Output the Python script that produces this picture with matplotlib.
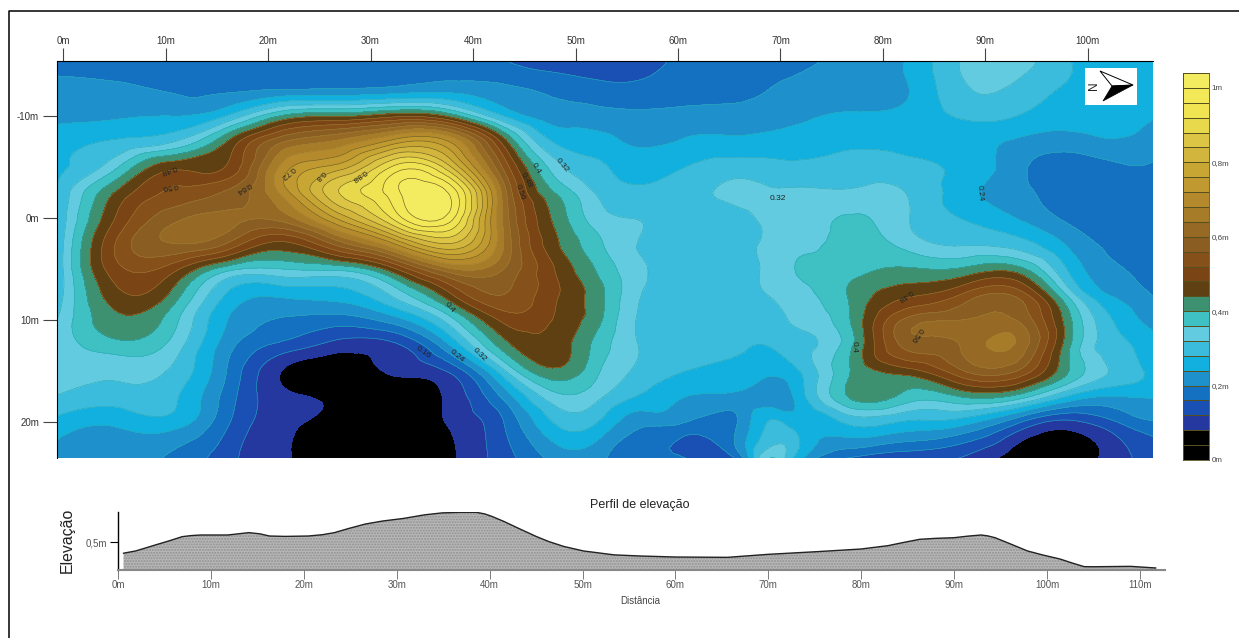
import matplotlib
matplotlib.use("Agg")
import matplotlib.pyplot as plt
import matplotlib.tri as mtri
from matplotlib.colors import ListedColormap, BoundaryNorm
from matplotlib.lines import Line2D
from matplotlib.patches import Polygon
import numpy as np

plt.rcParams['font.family'] = ['Liberation Sans', 'DejaVu Sans']

W, H = 1239, 638

# sample positions on the map (metres)
x_pos = [-1, 5.4, 10.9, 16.3, 21.6, 26.9, 32.3, 37.7, 43, 48.4, 52.4, 55.3, 60.7, 66, 68.7, 71.4, 76.8, 82.2, 87.5, 93, 98.3, 103.6, 107]
y_pos = [-15.5, -12.5, -10, -7.5, -5, -2.5, 0, 2.5, 5, 7.5, 10, 12.5, 15, 17.5, 20, 24]

# elevation, one line per x position
elev = [
    [.19, .21, .23, .26, .27, .27, .27, .27, .27, .28, .31, .33, .34, .32, .27, .24],
    [.17, .21, .235, .285, .36, .45, .49, .53, .51, .47, .43, .385, .33, .30, .25, .215],
    [.175, .195, .24, .32, .47, .53, .59, .60, .49, .42, .37, .34, .31, .285, .26, .19],
    [.185, .195, .29, .45, .49, .57, .61, .55, .37, .27, .235, .21, .19, .175, .16, .13],
    [.195, .205, .41, .60, .70, .70, .62, .47, .36, .25, .195, .145, .075, .09, .09, .085],
    [.195, .21, .435, .65, .78, .88, .77, .58, .37, .26, .18, .10, .05, .07, .06, .05],
    [.19, .22, .47, .74, .93, .985, .93, .72, .47, .33, .22, .11, .085, .05, .03, .02],
    [.19, .23, .43, .72, .85, .995, .98, .84, .63, .47, .34, .235, .125, .09, .085, .07],
    [.16, .21, .28, .46, .55, .62, .63, .64, .60, .56, .49, .42, .31, .21, .16, .14],
    [.13, .19, .22, .27, .33, .39, .42, .44, .47, .48, .47, .46, .43, .35, .29, .21],
    [.13, .175, .215, .255, .285, .31, .335, .365, .39, .41, .405, .38, .36, .325, .275, .21],
    [.135, .17, .21, .235, .27, .29, .32, .325, .34, .34, .33, .33, .32, .285, .22, .17],
    [.17, .18, .215, .245, .28, .30, .30, .305, .30, .30, .30, .30, .28, .24, .20, .18],
    [.18, .19, .215, .25, .30, .33, .31, .30, .30, .305, .30, .285, .26, .23, .205, .15],
    [.185, .20, .22, .255, .295, .325, .325, .33, .33, .32, .305, .28, .25, .22, .28, .38],
    [.19, .21, .23, .26, .29, .325, .33, .345, .36, .34, .325, .30, .27, .245, .26, .25],
    [.21, .215, .245, .27, .30, .325, .365, .375, .385, .405, .40, .39, .40, .405, .29, .13],
    [.24, .235, .25, .265, .295, .32, .325, .345, .405, .47, .57, .57, .46, .385, .275, .11],
    [.32, .31, .285, .255, .27, .26, .28, .315, .405, .52, .60, .60, .55, .40, .26, .11],
    [.34, .31, .28, .235, .215, .215, .24, .30, .42, .55, .60, .635, .56, .385, .17, .05],
    [.28, .27, .25, .225, .17, .175, .19, .23, .27, .34, .405, .40, .395, .27, .11, .06],
    [.245, .25, .245, .235, .195, .165, .17, .185, .20, .225, .26, .285, .30, .24, .17, .11],
    [.24, .24, .24, .215, .19, .165, .17, .17, .18, .19, .215, .245, .26, .245, .20, .15],
]

levels = [round(i * 0.04, 2) for i in range(27)]
band_colors = ['#000000', '#000000', '#2438a0', '#1a50b4', '#1470c0', '#1e90cc', '#12b0de', '#3cbcdc',
               '#62cbe0', '#3fc1c4', '#3d9070', '#5e4012', '#7a4414', '#85501a', '#8a5e22', '#966a24',
               '#a67c28', '#b58a2c', '#c09a30', '#c8a634', '#d2b53c', '#dcc444', '#e8d84c', '#f0e452',
               '#f2e858', '#f4ec60']

top_ticks = [0, 10, 20, 30, 40, 50, 60, 70, 80, 90, 100]
top_labels = ['0m', '10m', '20m', '30m', '40m', '50m', '60m', '70m', '80m', '90m', '100m']
left_ticks = [-10, 0, 10, 20]
left_labels = ['-10m', '0m', '10m', '20m']

# contour labels: text, x, y, rotation
label_text = ['0.48', '0.56', '0.64', '0.72', '0.8', '0.88', '0.4', '0.48', '0.56', '0.32', '0.4', '0.32', '0.24', '0.16', '0.32', '0.24', '0.4', '0.48', '0.56']
label_x = [10.3, 10.4, 17.6, 21.9, 25, 28.8, 46.1, 45.2, 44.6, 48.7, 37.7, 40.6, 38.4, 35.1, 69.7, 89.5, 77.2, 82.1, 83.2]
label_y = [-4.8, -3.2, -3.0, -4.5, -4.2, -4.2, -4.9, -3.7, -2.5, -5.2, 8.8, 13.4, 13.5, 13.2, -1.9, -2.5, 12.6, 7.5, 11.4]
label_rot = [200, 190, 210, 220, 225, 215, -60, -60, -70, -50, -50, -45, -40, -35, 0, -85, -90, 215, 235]

# elevation profile
prof_x = [0.6, 1.9, 2.9, 4, 5.5, 6.9, 7.9, 8.9, 11.8, 14.1, 15.3, 16.3, 18, 20.5, 22, 23.3, 24.8, 26.6, 28.5, 30.7, 33, 34.9,
          36.8, 38.6, 39.5, 40.2, 41.5, 43.1, 45, 46.4, 48, 50.1, 52, 53.4, 56.2, 60, 65.6, 70, 75.2, 80, 82.9, 84.5, 86.3,
          88, 90, 91.5, 92.9, 93.6, 94.4, 96, 97.9, 99.5, 101.4, 102.8, 104, 105, 109, 111.7]
prof_v = [.30, .34, .39, .446, .52, .595, .615, .625, .625, .667, .645, .607, .60, .607, .63, .667, .74, .82, .875, .92, .985, 1.02,
          1.03, 1.03, 1.0, .96, .87, .745, .60, .506, .42, .34, .30, .27, .25, .232, .226, .28, .327, .375, .435, .49, .548,
          .565, .577, .605, .625, .61, .577, .47, .34, .27, .196, .12, .06, .058, .065, .036]
prof_ticks = [0, 10, 20, 30, 40, 50, 60, 70, 80, 90, 100, 110]
prof_labels = ['0m', '10m', '20m', '30m', '40m', '50m', '60m', '70m', '80m', '90m', '100m', '110m']
cbar_ticks = [0, 0.2, 0.4, 0.6, 0.8, 1.0]
cbar_labels = ['0m', '0,2m', '0,4m', '0,6m', '0,8m', '1m']


def px_axes(left, top, right, bottom):
    return fig.add_axes([left / W, 1 - bottom / H, (right - left) / W, (bottom - top) / H])


fig = plt.figure(figsize=(W / 100, H / 100), dpi=100, facecolor='white')

# frame lines on the left and on top
fig.add_artist(Line2D([8.5 / W, 8.5 / W, 1], [0, 1 - 10.7 / H, 1 - 10.7 / H], color='black', lw=1.1))

cmap = ListedColormap(band_colors)
norm = BoundaryNorm(levels, cmap.N)

# map
ax = px_axes(57, 61, 1153, 458)
X, Y = np.meshgrid(x_pos, y_pos, indexing='ij')
Z = np.array(elev)
tri = mtri.Triangulation(X.ravel(), Y.ravel())
refiner = mtri.UniformTriRefiner(tri)
tri2, z2 = refiner.refine_field(Z.ravel(), subdiv=3)
ax.tricontourf(tri2, z2, levels=levels, cmap=cmap, norm=norm, extend='both')
ax.tricontour(tri2, z2, levels=[l for l in levels if 0.08 < l < 0.44], colors='#2aa8b4', linewidths=0.4)
ax.tricontour(tri2, z2, levels=[l for l in levels if 0.44 <= l < 0.7], colors='#a08038', linewidths=0.35)
ax.tricontour(tri2, z2, levels=[l for l in levels if l >= 0.7], colors='#6b5a20', linewidths=0.45)
ax.set_xlim(-0.6, 106.35)
ax.set_ylim(23.5, -15.4)
ax.xaxis.tick_top()
ax.set_xticks(top_ticks, top_labels, fontsize=7, color='#333333')
ax.set_yticks(left_ticks, left_labels, fontsize=7, color='#333333')
ax.tick_params(axis='x', length=9.5, width=0.8, pad=1, color='#444444')
ax.tick_params(axis='y', length=10, width=0.8, pad=3, color='#444444')
ax.spines['right'].set_visible(False)
ax.spines['bottom'].set_visible(False)
for t, lx, ly, r in zip(label_text, label_x, label_y, label_rot):
    ax.text(lx, ly, t, fontsize=6, rotation=r, ha='center', va='center', color='#222222', rotation_mode='anchor')

# north arrow
na = px_axes(1085, 68, 1137, 105)
na.set_xlim(0, 52)
na.set_ylim(37, 0)
na.set_xticks([])
na.set_yticks([])
for s in na.spines.values():
    s.set_visible(False)
na.add_patch(Polygon([[15, 3], [48, 17], [27, 18]], fc='white', ec='black', lw=0.7))
na.add_patch(Polygon([[18, 33], [48, 17], [27, 18]], fc='black', ec='black', lw=0.5))
na.text(9, 18, 'N', rotation=90, fontsize=8.5, ha='center', va='center', color='#222222')

# colour scale
cb = px_axes(1183, 73, 1209, 460)
cb.pcolormesh([0, 1], levels, np.array(levels[:-1]).reshape(-1, 1) + 0.02, cmap=cmap, norm=norm,
              edgecolors='#55501e', linewidth=0.5)
cb.set_xticks([])
cb.yaxis.tick_right()
cb.set_yticks(cbar_ticks, cbar_labels, fontsize=5.8, color='#444444')
cb.tick_params(axis='y', length=0, pad=2)
cb.set_ylim(0, 1.04)
for s in cb.spines.values():
    s.set_linewidth(0.6)
    s.set_color('#55501e')

# elevation profile
pa = px_axes(118, 512, 1165, 570)
pa.fill_between(prof_x, prof_v, 0, facecolor='#b8b8b8', edgecolor='#909090', hatch='......', lw=0)
pa.plot(prof_x, prof_v, color='#222222', lw=1.0)
pa.set_xlim(0, 112.7)
pa.set_ylim(0, 58 / 56)
pa.set_xticks(prof_ticks, prof_labels, fontsize=7, color='#555555')
pa.set_yticks([0.5], ['0,5m'], fontsize=7, color='#555555')
pa.tick_params(axis='x', length=6.5, width=0.6, color='#666666', pad=1)
pa.tick_params(axis='y', length=6, width=0.8, pad=2)
pa.spines['top'].set_visible(False)
pa.spines['right'].set_visible(False)
pa.spines['bottom'].set_color('#888888')
pa.spines['bottom'].set_linewidth(1.5)
pa.spines['left'].set_linewidth(1.0)

fig.text(640 / W, 1 - 505 / H, 'Perfil de elevação', fontsize=9, ha='center', va='center', color='#222222')
fig.text(640 / W, 1 - 601 / H, 'Distância', fontsize=7, ha='center', va='center', color='#444444')
fig.text(67.5 / W, 1 - 540 / H, 'Elevação', fontsize=11.4, rotation=90, ha='center', va='center', color='#222222')

fig.savefig('out.png', dpi=100)
